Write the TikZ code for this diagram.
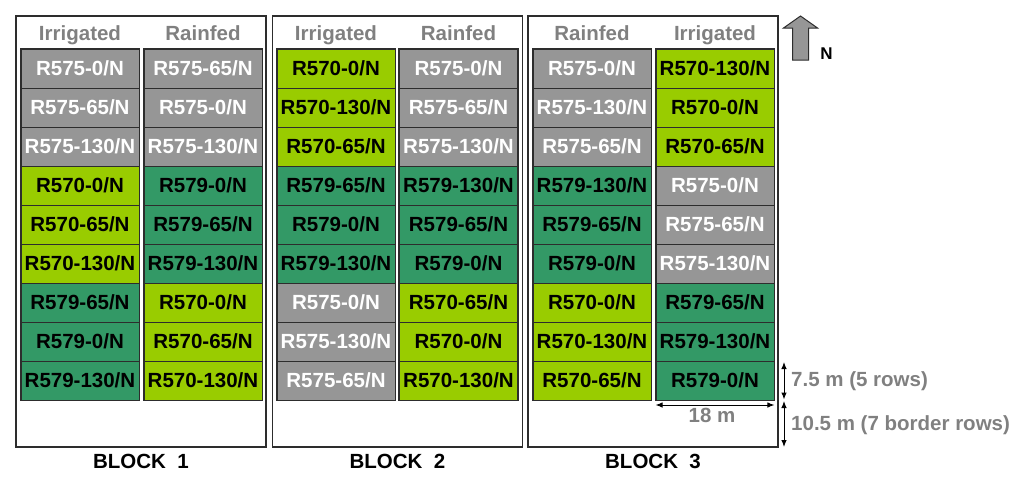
\documentclass[tikz,border=0pt]{standalone}
\usepackage{fontspec}
\setmainfont{Liberation Sans}
\usetikzlibrary{arrows.meta}
\definecolor{cgrey}{RGB}{150,150,150}
\definecolor{clight}{RGB}{153,204,0}
\definecolor{cdark}{RGB}{51,153,102}
\definecolor{cline}{RGB}{45,45,45}
\definecolor{ctxt}{RGB}{128,128,128}
\newcommand{\plotcolumn}[3]{%
  \foreach \lab/\col [count=\r] in {#3} {
    \node[cell, cell\col] (#1r\r) at (#2, {49+19.5+39*(\r-1)}) {R\lab/N};
  }
  \draw[colframe] (#1r1.north west) rectangle (#1r9.south east);
}
\begin{document}
\begin{tikzpicture}[x=1pt, y=-1pt,
  every node/.style={font=\fontsize{20.5}{24}\selectfont\bfseries, inner sep=0pt},
  cell/.style={draw=cline, line width=0.9pt, minimum width=118pt, minimum height=39pt},
  cellG/.style={fill=cgrey, text=white},
  cellL/.style={fill=clight, text=black},
  cellD/.style={fill=cdark, text=black},
  colframe/.style={draw=cline, line width=1.6pt},
  blockbox/.style={draw=cline, line width=1.6pt, minimum width=250pt, minimum height=431pt},
  header/.style={text=ctxt, anchor=base},
  blocklabel/.style={anchor=base},
  dimtext/.style={text=ctxt, anchor=base west},
  dim/.style={{Latex[length=7pt,width=5.5pt]}-{Latex[length=7pt,width=5.5pt]}, line width=1pt, black}
]
\useasboundingbox (0,0) rectangle (1024,482);

% blocks
\node[blockbox] (blk1) at (141,231.5) {};
\node[blockbox] (blk2) at (397.5,231.5) {};
\node[blockbox] (blk3) at (653,231.5) {};

\node[blocklabel] (lbl1) at (141,468) {BLOCK\ \ 1};
\node[blocklabel] (lbl2) at (397.5,468) {BLOCK\ \ 2};
\node[blocklabel] (lbl3) at (653,468) {BLOCK\ \ 3};

% headers
\node[header] (h11) at (80,40) {Irrigated};
\node[header] (h12) at (203,40) {Rainfed};
\node[header] (h21) at (336,40) {Irrigated};
\node[header] (h22) at (458.5,40) {Rainfed};
\node[header] (h31) at (592,40) {Rainfed};
\node[header] (h32) at (715,40) {Irrigated};

% columns
\plotcolumn{ba}{80}{575-0/G,575-65/G,575-130/G,570-0/L,570-65/L,570-130/L,579-65/D,579-0/D,579-130/D}
\plotcolumn{bb}{203}{575-65/G,575-0/G,575-130/G,579-0/D,579-65/D,579-130/D,570-0/L,570-65/L,570-130/L}
\plotcolumn{bc}{336}{570-0/L,570-130/L,570-65/L,579-65/D,579-0/D,579-130/D,575-0/G,575-130/G,575-65/G}
\plotcolumn{bd}{458.5}{575-0/G,575-65/G,575-130/G,579-130/D,579-65/D,579-0/D,570-65/L,570-0/L,570-130/L}
\plotcolumn{be}{592}{575-0/G,575-130/G,575-65/G,579-130/D,579-65/D,579-0/D,570-0/L,570-130/L,570-65/L}
\plotcolumn{bf}{715}{570-130/L,570-0/L,570-65/L,575-0/G,575-65/G,575-130/G,579-65/D,579-130/D,579-0/D}

% north arrow
\draw[fill=cgrey, draw=cline, line width=1pt]
  (792.5,60) -- (792.5,28) -- (783.5,28) -- (800.5,16) -- (817.5,28) -- (808.5,28) -- (808.5,60) -- cycle;
\node[font=\fontsize{17}{20}\selectfont\bfseries, anchor=base] (north) at (826.5,59) {N};

% dimensions
\coordinate (v1a) at (784,362);
\coordinate (v1b) at (784,399.5);
\coordinate (v2a) at (784,401);
\coordinate (v2b) at (784,447);
\coordinate (h1a) at (bfr9.south west |- 0,405);
\coordinate (h1b) at (bfr9.south east |- 0,405);
\draw[dim] (v1a) -- (v1b);
\draw[dim] (v2a) -- (v2b);
\draw[dim] (h1a) -- (h1b);
\node[dimtext] (d1) at (791,386.5) {7.5 m (5 rows)};
\node[dimtext] (d2) at (791,430) {10.5 m (7 border rows)};
\node[text=ctxt, anchor=base] (d3) at (712,422.5) {18 m};
\end{tikzpicture}
\end{document}
